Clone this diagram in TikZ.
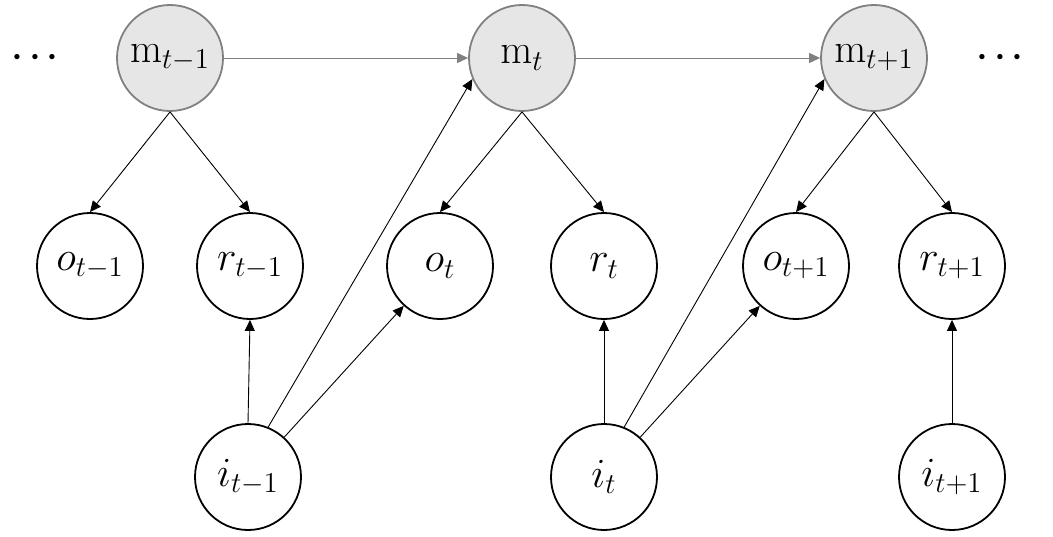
\documentclass[tikz,border=0pt]{standalone}
\usetikzlibrary{arrows.meta, positioning}
\definecolor{memgray}{HTML}{808080}
\definecolor{memfill}{HTML}{E7E6E6}

\begin{document}
\begin{tikzpicture}[x=0.5pt, y=-0.5pt,
  var/.style={circle, draw, line width=0.9pt, minimum size=53pt, inner sep=0pt,
    font=\fontsize{21}{25}\selectfont},
  memvar/.style={var, draw=memgray, fill=memfill},
  edge/.style={-{Triangle[length=5.5pt,width=5pt]}, line width=0.45pt},
  memedge/.style={edge, memgray},
  dotsnode/.style={font=\fontsize{24}{28}\selectfont}]
  \useasboundingbox (0,0) rectangle (1053,536);

  % Memory chain
  \node[memvar] (m1) at (170,58) {$\mathrm{m}_{t-1}$};
  \node[memvar] (m2) at (522,58) {$\mathrm{m}_{t}$};
  \node[memvar] (m3) at (874,58) {$\mathrm{m}_{t+1}$};
  \node[dotsnode] (dl) at (35,58) {$\mathord{\cdot}\mkern1.5mu\mathord{\cdot}\mkern1.5mu\mathord{\cdot}$};
  \node[dotsnode] (dr) at (1000,58) {$\mathord{\cdot}\mkern1.5mu\mathord{\cdot}\mkern1.5mu\mathord{\cdot}$};

  % Outputs and rewards
  \node[var] (o1) at (90,266) {$o_{t-1}$};
  \node[var] (r1) at (250,266) {$r_{t-1}$};
  \node[var] (o2) at (440,266) {$o_{t}$};
  \node[var] (r2) at (604,266) {$r_{t}$};
  \node[var] (o3) at (796,266) {$o_{t+1}$};
  \node[var] (r3) at (952,266) {$r_{t+1}$};

  % Inputs
  \node[var] (i1) at (248,477) {$i_{t-1}$};
  \node[var] (i2) at (604,477) {$i_{t}$};
  \node[var] (i3) at (952,477) {$i_{t+1}$};

  % Edges
  \draw[memedge] (m1) -- (m2);
  \draw[memedge] (m2) -- (m3);
  \draw[edge] (m1.south) -- (o1.north);
  \draw[edge] (m1.south) -- (r1.north);
  \draw[edge] (m2.south) -- (o2.north);
  \draw[edge] (m2.south) -- (r2.north);
  \draw[edge] (m3.south) -- (o3.north);
  \draw[edge] (m3.south) -- (r3.north);
  \draw[edge] (i1.north) -- (r1.south);
  \draw[edge] (i1.68) -- (m2.203);
  \draw[edge] (i1) -- (o2);
  \draw[edge] (i2.north) -- (r2.south);
  \draw[edge] (i2.68) -- (m3.203);
  \draw[edge] (i2) -- (o3);
  \draw[edge] (i3.north) -- (r3.south);
\end{tikzpicture}
\end{document}
